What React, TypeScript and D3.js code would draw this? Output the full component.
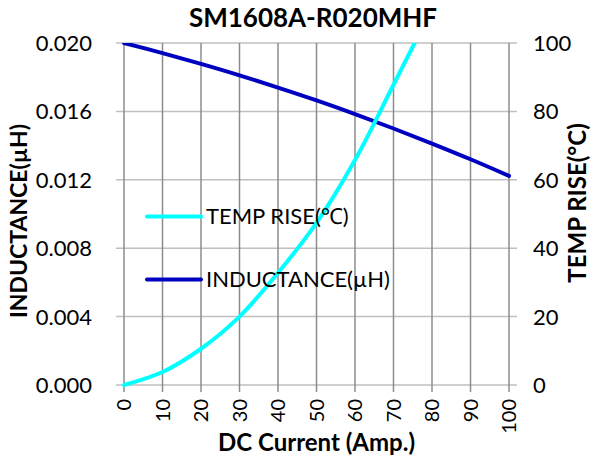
import * as d3 from "d3";

const currents = [0, 10, 20, 30, 40, 50, 60, 70, 80, 90, 100];
const inductance = [0.02, 0.01941, 0.01878, 0.01811, 0.01739, 0.01664, 0.01584, 0.015, 0.01412, 0.0132, 0.01223];
const tempCurrents = [0, 10, 20, 30, 40, 50, 60, 70, 80];
const tempRise = [0, 3.8, 10.6, 20, 32.8, 47.4, 65.8, 87.8, 110];
const leftTicks = [0, 0.004, 0.008, 0.012, 0.016, 0.02];
const rightTicks = [0, 20, 40, 60, 80, 100];
const xTicks = [0, 10, 20, 30, 40, 50, 60, 70, 80, 90, 100];

const W = 591;
const H = 462;
const m = { t: 43, r: 82, b: 77, l: 124 };
const font = "Lato, 'Noto Sans', sans-serif";
const cyan = "#00FFFF";
const navy = "#0000C0";

export default function App() {
  const x = d3.scaleLinear().domain([0, 100]).range([m.l, W - m.r]);
  const yL = d3.scaleLinear().domain([0, 0.02]).range([H - m.b, m.t]);
  const yR = d3.scaleLinear().domain([0, 100]).range([H - m.b, m.t]);

  const indLine = d3
    .line<number>()
    .x((_, i) => x(currents[i]))
    .y((d) => yL(d))
    .curve(d3.curveCatmullRom);
  const tempLine = d3
    .line<number>()
    .x((_, i) => x(tempCurrents[i]))
    .y((d) => yR(d))
    .curve(d3.curveCatmullRom);

  const x0 = x(0), x1 = x(100), yb = yL(0), yt = yL(0.02);

  return (
    <svg width={W} height={H} style={{ position: "absolute", left: 0, top: 0 }} fontFamily={font}>
      <rect width={W} height={H} fill="#fff" />
      <defs>
        <clipPath id="plot">
          <rect x={x0 - 3} y={yt} width={x1 - x0 + 6} height={yb - yt + 3} />
        </clipPath>
      </defs>
      <text x={313} y={27} textAnchor="middle" fontWeight="bold" fontSize={26}>
        SM1608A-R020MHF
      </text>
      {/* horizontal grid */}
      {leftTicks.map((t) => (
        <line key={"h" + t} x1={x0 - 8} x2={x1 + 8} y1={yL(t)} y2={yL(t)} stroke="#BFBFBF" strokeWidth={1.5} />
      ))}
      {/* vertical grid */}
      {xTicks.map((t) => (
        <line key={"v" + t} x1={x(t)} x2={x(t)} y1={yt} y2={yb + 7} stroke="#8C8C8C" strokeWidth={1.5} />
      ))}
      {leftTicks.map((t) => (
        <text key={"l" + t} x={x0 - 32} y={yL(t)} dy="0.36em" textAnchor="end" fontSize={22}>
          {t.toFixed(3)}
        </text>
      ))}
      {rightTicks.map((t) => (
        <text key={"r" + t} x={x1 + 24} y={yR(t)} dy="0.36em" textAnchor="start" fontSize={22}>
          {t}
        </text>
      ))}
      {xTicks.map((t) => (
        <text
          key={"x" + t}
          transform={`translate(${x(t)},${yb + 14}) rotate(-90)`}
          dy="0.36em"
          textAnchor="end"
          fontSize={20}
        >
          {t}
        </text>
      ))}
      <text x={(x0 + x1) / 2} y={451} textAnchor="middle" fontWeight="bold" fontSize={24}>
        DC Current (Amp.)
      </text>
      <text transform={`translate(19,221) rotate(-90)`} dy="0.36em" textAnchor="middle" fontWeight="bold" fontSize={23}>
        INDUCTANCE(µH)
      </text>
      <text transform={`translate(577,203) rotate(-90)`} dy="0.36em" textAnchor="middle" fontWeight="bold" fontSize={24}>
        TEMP RISE(°C)
      </text>
      <g clipPath="url(#plot)">
        <path d={indLine(inductance) || ""} fill="none" stroke={navy} strokeWidth={4} strokeLinecap="round" />
        <path d={tempLine(tempRise) || ""} fill="none" stroke={cyan} strokeWidth={4} strokeLinecap="round" />
      </g>
      {/* legend */}
      <line x1={147} x2={201} y1={216.5} y2={216.5} stroke={cyan} strokeWidth={4} strokeLinecap="round" />
      <text x={206} y={216.5} dy="0.36em" fontSize={22}>TEMP RISE(℃)</text>
      <line x1={147} x2={201} y1={279.5} y2={279.5} stroke={navy} strokeWidth={4} strokeLinecap="round" />
      <text x={206} y={279.5} dy="0.36em" fontSize={22}>INDUCTANCE(µH)</text>
    </svg>
  );
}
